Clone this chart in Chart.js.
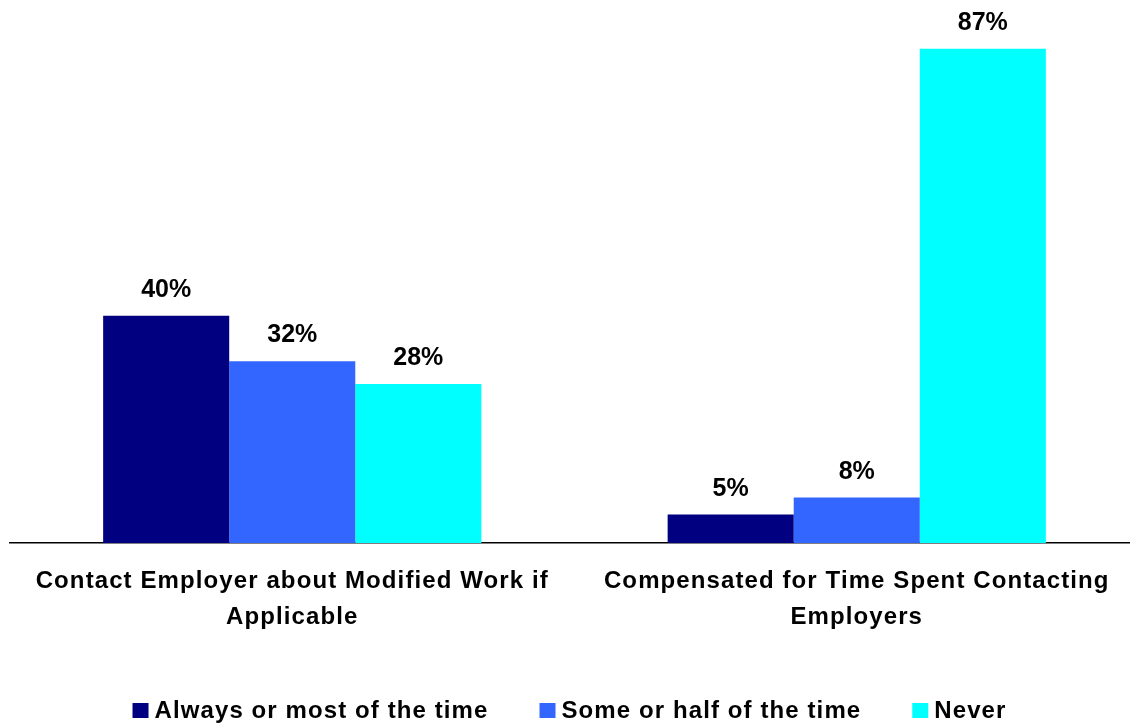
<!DOCTYPE html>
<html>
<head>
<meta charset="utf-8">
<script src="https://cdn.jsdelivr.net/npm/chart.js@4"></script>
<style>
  html, body { margin: 0; padding: 0; background: #fff; overflow: hidden; }
  #wrap { width: 1139px; height: 725px; position: relative; }
</style>
</head>
<body>
<div id="wrap"><canvas id="chart"></canvas></div>
<script>
// 数据
const categories = [
    ['Contact Employer about Modified Work if', 'Applicable'],
    ['Compensated for Time Spent Contacting', 'Employers']
];
const seriesNames = ['Always or most of the time', 'Some or half of the time', 'Never'];
const alwaysValues = [40, 5];
const someValues = [32, 8];
const neverValues = [28, 87];
const colors = ['#000080', '#3366FF', '#00FFFF'];

const FONT = 'Liberation Sans, Arial, sans-serif';
const SPACING = '1.1px';

// 文字间距（画布尺寸变化会重置状态）
const letterSpacing = {
    id: 'letterSpacing',
    beforeUpdate(chart) { chart.ctx.letterSpacing = SPACING; },
    beforeDraw(chart) { chart.ctx.letterSpacing = SPACING; }
};

// 柱顶数值标签
const valueLabels = {
    id: 'valueLabels',
    afterDatasetsDraw(chart) {
        const ctx = chart.ctx;
        ctx.save();
        ctx.letterSpacing = '0px';
        ctx.font = 'bold 25px ' + FONT;
        ctx.fillStyle = '#000';
        ctx.textAlign = 'center';
        ctx.textBaseline = 'alphabetic';
        chart.data.datasets.forEach((ds, i) => {
            chart.getDatasetMeta(i).data.forEach((bar, j) => {
                ctx.fillText(ds.data[j] + '%', bar.x, bar.y - 19);
            });
        });
        ctx.restore();
    }
};

// 底部图例
const bottomLegend = {
    id: 'bottomLegend',
    afterDraw(chart) {
        const ctx = chart.ctx;
        ctx.save();
        ctx.letterSpacing = SPACING;
        ctx.font = 'bold 24px ' + FONT;
        ctx.textBaseline = 'alphabetic';
        ctx.textAlign = 'left';
        const box = 16, gapText = 6, gapItem = 51;
        const widths = seriesNames.map(n => ctx.measureText(n).width);
        let total = 0;
        widths.forEach((w, i) => { total += box + gapText + w + (i < widths.length - 1 ? gapItem : 0); });
        let x = (chart.width - total) / 2;
        const baseline = 718;
        seriesNames.forEach((name, i) => {
            ctx.fillStyle = colors[i];
            ctx.fillRect(x, baseline - 15, box, 15);
            ctx.fillStyle = '#000';
            ctx.fillText(name, x + box + gapText, baseline);
            x += box + gapText + widths[i] + gapItem;
        });
        ctx.restore();
    }
};

new Chart(document.getElementById('chart'), {
    type: 'bar',
    data: {
        labels: categories,
        datasets: [
            { label: seriesNames[0], data: alwaysValues, backgroundColor: colors[0] },
            { label: seriesNames[1], data: someValues, backgroundColor: colors[1] },
            { label: seriesNames[2], data: neverValues, backgroundColor: colors[2] }
        ]
    },
    options: {
        responsive: true,
        maintainAspectRatio: false,
        animation: false,
        layout: { padding: { left: 10, right: 0, top: 0, bottom: 53 } },
        datasets: {
            bar: { categoryPercentage: 0.67, barPercentage: 1.0 }
        },
        scales: {
            x: {
                grid: { display: false, drawTicks: false },
                border: { display: true, color: '#000', width: 1.5 },
                ticks: {
                    color: '#000',
                    font: { family: FONT, size: 24, weight: 'bold', lineHeight: 1.48 },
                    padding: 21,
                    maxRotation: 0,
                    autoSkip: false
                },
                afterFit(scale) { scale.height = 129; }
            },
            y: {
                display: false,
                min: 0,
                max: 95.6
            }
        },
        plugins: {
            legend: { display: false },
            tooltip: { enabled: false }
        }
    },
    plugins: [letterSpacing, valueLabels, bottomLegend]
});
</script>
</body>
</html>
